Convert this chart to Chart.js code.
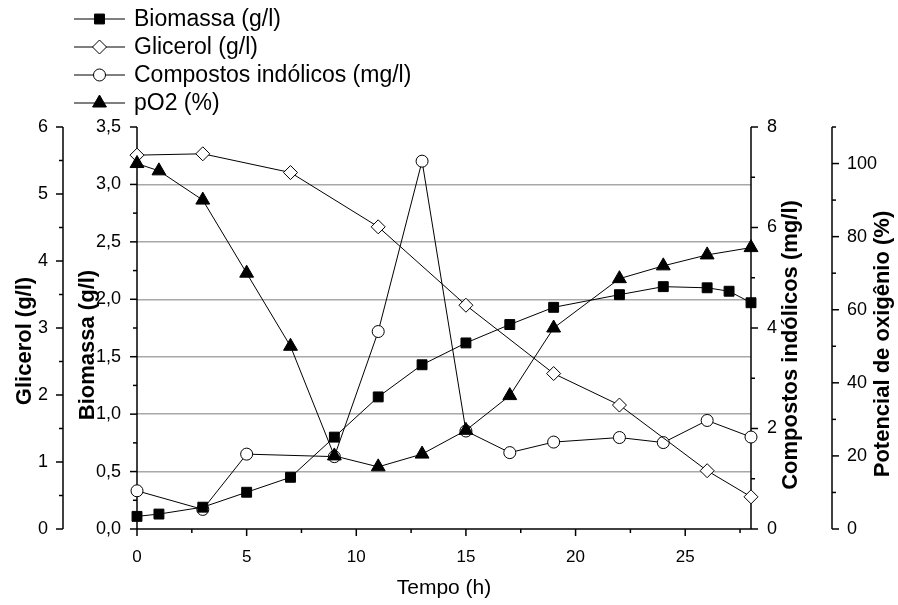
<!DOCTYPE html>
<html>
<head>
<meta charset="utf-8">
<script src="https://cdn.jsdelivr.net/npm/chart.js@4.4.1/dist/chart.umd.min.js"></script>
<style>
  html, body { margin: 0; padding: 0; background: #fff; }
  #wrap { width: 898px; height: 605px; }
</style>
</head>
<body>
<div id="wrap"><canvas id="chart" width="898" height="605"></canvas></div>
<script>
const FONT = "'Liberation Sans', Arial, sans-serif";

// --- dados ---
const biomassTime = [0, 1, 3, 5, 7, 9, 11, 13, 15, 17, 19, 22, 24, 26, 27, 28];
const biomass     = [0.11, 0.13, 0.19, 0.32, 0.45, 0.80, 1.15, 1.43, 1.62, 1.78, 1.93, 2.04, 2.11, 2.10, 2.07, 1.97];

const glicerolTime = [0, 3, 7, 11, 15, 19, 22, 26, 28];
const glicerol     = [5.58, 5.60, 5.32, 4.51, 3.34, 2.32, 1.85, 0.87, 0.48];

const indolTime = [0, 3, 5, 9, 11, 13, 15, 17, 19, 22, 24, 26, 28];
const indol     = [0.76, 0.39, 1.49, 1.44, 3.93, 7.32, 1.95, 1.52, 1.73, 1.82, 1.72, 2.16, 1.83];

const pO2Time = [0, 1, 3, 5, 7, 9, 11, 13, 15, 17, 19, 22, 24, 26, 28];
const pO2     = [100, 98, 90, 70, 50, 20, 17, 20.5, 27, 36.5, 55, 68.5, 72, 75, 77];

// --- ticks ---
const timeTicks     = [0, 5, 10, 15, 20, 25];
const glicerolTicks = [0, 1, 2, 3, 4, 5, 6];
const biomassTicks  = [0, 0.5, 1, 1.5, 2, 2.5, 3, 3.5];
const indolTicks    = [0, 2, 4, 6, 8];
const pO2Ticks      = [0, 20, 40, 60, 80, 100];

// minor tick step per axis (Origin style)
const minorStep = { x: 2.5, yG: 0.5, yB: 0.25, yC: 1, yP: 10 };

const toXY = (xs, ys) => xs.map((x, i) => ({ x: x, y: ys[i] }));
const setTicks = list => scale => { scale.ticks = list.map(v => ({ value: v })); };
const comma = v => v.toFixed(1).replace('.', ',');

function base(style, radius, fill) {
    return {
        borderColor: '#000',
        borderWidth: 1,
        pointStyle: style,
        pointRadius: radius,
        pointBorderWidth: 1,
        pointBorderColor: '#000',
        pointBackgroundColor: fill,
        backgroundColor: fill,
        tension: 0,
        clip: false
    };
}

const datasets = [
    Object.assign({ label: 'Biomassa (g/l)', data: toXY(biomassTime, biomass), yAxisID: 'yB', order: 1 }, base('rect', 7, '#000')),
    Object.assign({ label: 'Glicerol (g/l)', data: toXY(glicerolTime, glicerol), yAxisID: 'yG', order: 2 }, base('rectRot', 7, '#fff')),
    Object.assign({ label: 'Compostos indólicos (mg/l)', data: toXY(indolTime, indol), yAxisID: 'yC', order: 3 }, base('circle', 6, '#fff')),
    Object.assign({ label: 'pO2 (%)', data: toXY(pO2Time, pO2), yAxisID: 'yP', order: 0 }, base('triangle', 8, '#000'))
];

// axis lines + major/minor ticks drawn under the data
const originAxes = {
    id: 'originAxes',
    beforeDatasetsDraw(chart) {
        const { ctx, chartArea: ca, scales } = chart;
        ctx.save();
        ctx.strokeStyle = '#000';
        ctx.lineWidth = 1.5;

        const axisX = { yG: scales.yG.right, yB: ca.left, yC: ca.right, yP: scales.yP.left };
        const side = { yG: -1, yB: -1, yC: 1, yP: 1 };

        // vertical axes
        Object.keys(axisX).forEach(id => {
            const s = scales[id];
            const x = axisX[id];
            ctx.beginPath();
            ctx.moveTo(x, ca.top);
            ctx.lineTo(x, ca.bottom);
            ctx.stroke();
            const step = minorStep[id];
            const n = Math.round((s.max - s.min) / step);
            for (let i = 0; i <= n; i++) {
                const v = s.min + i * step;
                const isMajor = s.ticks.some(t => Math.abs(t.value - v) < 1e-6);
                const len = isMajor ? 7 : 4;
                const y = s.getPixelForValue(v);
                ctx.beginPath();
                ctx.moveTo(x, y);
                ctx.lineTo(x + side[id] * len, y);
                ctx.stroke();
            }
        });

        // x axis
        const sx = scales.x;
        ctx.beginPath();
        ctx.moveTo(ca.left, ca.bottom);
        ctx.lineTo(ca.right, ca.bottom);
        ctx.stroke();
        const nx = Math.floor((sx.max - sx.min) / minorStep.x);
        for (let i = 0; i <= nx; i++) {
            const v = sx.min + i * minorStep.x;
            const isMajor = sx.ticks.some(t => Math.abs(t.value - v) < 1e-6);
            const px = sx.getPixelForValue(v);
            ctx.beginPath();
            ctx.moveTo(px, ca.bottom);
            ctx.lineTo(px, ca.bottom + (isMajor ? 7 : 4));
            ctx.stroke();
        }
        ctx.restore();
    },
    afterDraw(chart) {
        const { ctx } = chart;
        ctx.save();
        ctx.fillStyle = '#000';
        ctx.textAlign = 'center';
        ctx.textBaseline = 'middle';

        // titles of the y axes, all reading bottom to top
        const titles = [
            ['Glicerol (g/l)', 25, 341],
            ['Biomassa (g/l)', 88, 345],
            ['Compostos indólicos (mg/l)', 791, 345],
            ['Potencial de oxigênio (%)', 883, 344]
        ];
        ctx.font = 'bold 22px ' + FONT;
        titles.forEach(([text, x, y]) => {
            ctx.save();
            ctx.translate(x, y);
            ctx.rotate(-Math.PI / 2);
            ctx.fillText(text, 0, 0);
            ctx.restore();
        });

        ctx.font = '21px ' + FONT;
        ctx.fillText('Tempo (h)', (chart.chartArea.left + chart.chartArea.right) / 2, 588);

        // legend: line - marker - line, then label
        ctx.textAlign = 'left';
        ctx.font = '23px ' + FONT;
        const rowY = [19, 47, 75, 103];
        chart.data.datasets.forEach((ds, i) => {
            const y = rowY[i];
            ctx.strokeStyle = '#000';
            ctx.lineWidth = 1;
            ctx.beginPath();
            ctx.moveTo(74, y);
            ctx.lineTo(125, y);
            ctx.stroke();
            ctx.fillStyle = ds.pointBackgroundColor;
            Chart.helpers.drawPoint(ctx, {
                pointStyle: ds.pointStyle,
                radius: ds.pointRadius,
                rotation: 0,
                borderWidth: 1
            }, 99.5, y);
            ctx.fillStyle = '#000';
            ctx.fillText(ds.label, 134, y + 1);
        });
        ctx.restore();
    }
};

function yAxis(pos, weight, min, max, ticks, width, pad, fmt) {
    return {
        type: 'linear',
        position: pos,
        weight: weight,
        min: min,
        max: max,
        afterBuildTicks: setTicks(ticks),
        afterFit: s => { s.width = width; },
        grid: { drawOnChartArea: false, drawTicks: false },
        border: { display: false },
        ticks: {
            autoSkip: false,
            color: '#000',
            padding: pad,
            font: { family: FONT, size: 18 },
            callback: fmt || (v => String(v))
        }
    };
}

const scaleB = yAxis('left', 1, 0, 3.5, biomassTicks, 74, 16, comma);
scaleB.grid = {
    drawOnChartArea: true,
    drawTicks: false,
    lineWidth: 1.5,
    color: c => (c.tick && c.tick.value > 0 && c.tick.value < 3.5) ? '#a8a8a8' : 'rgba(0,0,0,0)'
};

new Chart(document.getElementById('chart'), {
    type: 'line',
    data: { datasets: datasets },
    options: {
        responsive: false,
        animation: false,
        events: [],
        layout: { padding: { top: 127, left: 0, right: 0, bottom: 0 } },
        plugins: { legend: { display: false }, tooltip: { enabled: false } },
        scales: {
            x: {
                type: 'linear',
                position: 'bottom',
                min: 0,
                max: 28,
                afterBuildTicks: setTicks(timeTicks),
                afterFit: s => { s.height = 76; },
                grid: { drawOnChartArea: false, drawTicks: false },
                border: { display: false },
                ticks: { autoSkip: false, maxRotation: 0, color: '#000', padding: 18, font: { family: FONT, size: 17 } }
            },
            yG: yAxis('left', 2, 0, 6, glicerolTicks, 63, 15),
            yB: scaleB,
            yC: yAxis('right', 1, 0, 8, indolTicks, 81, 16),
            yP: yAxis('right', 2, 0, 110, pO2Ticks, 66, 15)
        }
    },
    plugins: [originAxes]
});
</script>
</body>
</html>
